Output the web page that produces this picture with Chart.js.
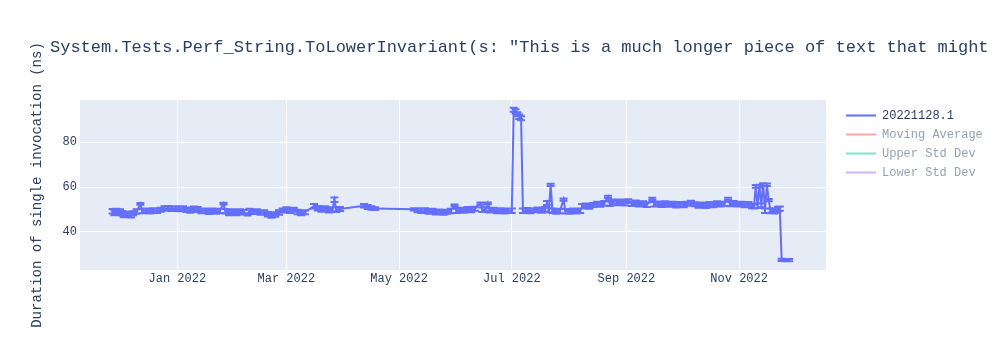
<!DOCTYPE html>
<html>
<head>
<meta charset="utf-8">
<script src="https://cdn.jsdelivr.net/npm/chart.js@4.4.1/dist/chart.umd.min.js"></script>
<style>
  html, body { margin: 0; padding: 0; background: #ffffff; }
  #wrap { width: 1000px; height: 350px; }
</style>
</head>
<body>
<div id="wrap"><canvas id="c" width="1000" height="350"></canvas></div>
<script>
// ---------------- data ----------------
const chartTitle = 'System.Tests.Perf_String.ToLowerInvariant(s: "This is a much longer piece of text that might benefit more from vectorization.")';
const yAxisTitle = 'Duration of single invocation (ns)';
const seriesNames = ['20221128.1', 'Moving Average', 'Upper Std Dev', 'Lower Std Dev'];

const runDates = [
  '2021-11-27','2021-11-28','2021-11-29','2021-11-30','2021-12-01','2021-12-02','2021-12-03','2021-12-05','2021-12-07','2021-12-08',
  '2021-12-10','2021-12-12','2021-12-13','2021-12-15','2021-12-17','2021-12-19','2021-12-21','2021-12-23','2021-12-25','2021-12-27',
  '2021-12-29','2021-12-31','2022-01-02','2022-01-04','2022-01-06','2022-01-08','2022-01-10','2022-01-12','2022-01-14','2022-01-16',
  '2022-01-18','2022-01-20','2022-01-22','2022-01-24','2022-01-26','2022-01-27','2022-01-29','2022-01-31','2022-02-02','2022-02-04',
  '2022-02-06','2022-02-08','2022-02-09','2022-02-11','2022-02-13','2022-02-15','2022-02-17','2022-02-19','2022-02-21','2022-02-23',
  '2022-02-25','2022-02-27','2022-03-01','2022-03-03','2022-03-05','2022-03-07','2022-03-09','2022-03-11','2022-03-16','2022-03-18',
  '2022-03-20','2022-03-22','2022-03-24','2022-03-26','2022-03-27','2022-03-28','2022-03-30','2022-04-12','2022-04-14','2022-04-16',
  '2022-04-18','2022-05-09','2022-05-11','2022-05-13','2022-05-15','2022-05-17','2022-05-19','2022-05-21','2022-05-23','2022-05-25',
  '2022-05-27','2022-05-29','2022-05-31','2022-06-01','2022-06-03','2022-06-05','2022-06-07','2022-06-09','2022-06-11','2022-06-14',
  '2022-06-15','2022-06-17','2022-06-18','2022-06-19','2022-06-21','2022-06-23','2022-06-25','2022-06-27','2022-06-29','2022-07-01',
  '2022-07-02','2022-07-03','2022-07-04','2022-07-05','2022-07-06','2022-07-07','2022-07-09','2022-07-11','2022-07-13','2022-07-15',
  '2022-07-17','2022-07-19','2022-07-20','2022-07-21','2022-07-22','2022-07-23','2022-07-25','2022-07-27','2022-07-29','2022-07-30',
  '2022-08-01','2022-08-03','2022-08-05','2022-08-07','2022-08-08','2022-08-10','2022-08-12','2022-08-14','2022-08-16','2022-08-18',
  '2022-08-20','2022-08-22','2022-08-23','2022-08-25','2022-08-26','2022-08-27','2022-08-29','2022-08-31','2022-09-02','2022-09-04',
  '2022-09-06','2022-09-08','2022-09-10','2022-09-12','2022-09-15','2022-09-16','2022-09-18','2022-09-20','2022-09-22','2022-09-24',
  '2022-09-26','2022-09-28','2022-09-30','2022-10-02','2022-10-04','2022-10-06','2022-10-08','2022-10-10','2022-10-12','2022-10-14',
  '2022-10-16','2022-10-18','2022-10-20','2022-10-22','2022-10-24','2022-10-26','2022-10-27','2022-10-29','2022-10-31','2022-11-02',
  '2022-11-04','2022-11-06','2022-11-08','2022-11-09','2022-11-10','2022-11-11','2022-11-12','2022-11-13','2022-11-14','2022-11-15',
  '2022-11-16','2022-11-17','2022-11-18','2022-11-19','2022-11-20','2022-11-21','2022-11-22','2022-11-23','2022-11-24','2022-11-26',
  '2022-11-28'
];

const durations = [
  49.2, 48.5, 49.4, 48.6, 49.0, 48.3, 47.7, 48.1, 47.5, 48.3,
  49.1, 52.5, 49.3, 49.6, 49.2, 49.7, 49.4, 49.9, 50.4, 50.7,
  50.3, 50.6, 50.2, 50.5, 49.9, 49.5, 50.3, 50.0, 49.3, 49.6,
  49.0, 49.5, 49.1, 49.4, 52.6, 49.2, 48.5, 49.1, 48.4, 49.2,
  48.8, 47.8, 49.3, 48.9, 49.1, 48.6, 48.7, 47.9, 47.4, 47.8,
  48.7, 49.6, 50.0, 49.4, 49.9, 48.9, 48.5, 48.8, 51.5, 50.6,
  49.9, 50.4, 49.7, 50.1, 54.3, 49.9, 50.2, 51.7, 51.1, 50.7,
  50.4, 50.1, 49.7, 49.4, 49.7, 49.1, 49.4, 48.8, 49.1, 48.7,
  49.0, 49.3, 51.8, 49.4, 49.9, 49.6, 50.2, 49.8, 50.3, 52.6,
  49.9, 50.2, 52.7, 49.7, 49.9, 49.3, 49.7, 49.2, 49.6, 49.4,
  94.4, 93.6, 92.4, 91.3, 90.6, 49.5, 49.8, 49.3, 49.7, 49.9,
  49.5, 50.1, 52.9, 49.8, 61.0, 49.4, 49.0, 49.3, 54.4, 49.2,
  49.0, 49.4, 49.1, 49.5, 51.4, 51.8, 51.3, 52.0, 52.4, 52.1,
  52.8, 55.6, 52.6, 53.3, 54.1, 52.9, 53.6, 52.8, 53.7, 52.6,
  53.1, 52.3, 52.8, 52.1, 54.7, 52.3, 52.7, 52.1, 52.8, 52.2,
  52.5, 51.9, 52.4, 52.0, 52.6, 52.9, 52.3, 51.8, 52.2, 51.7,
  52.4, 52.0, 52.8, 52.3, 52.6, 54.7, 52.4, 52.9, 52.3, 52.6,
  52.0, 52.4, 51.6, 51.3, 60.3, 51.7, 60.4, 51.9, 61.1, 49.5,
  61.0, 54.2, 49.3, 49.7, 49.2, 49.6, 50.2, 50.4, 27.6, 27.5,
  27.5
];

const errorMargins = [
  1.0, 1.1, 0.9, 1.0, 1.1, 1.0, 1.1, 1.0, 1.1, 0.9,
  1.0, 0.4, 1.0, 0.9, 1.0, 0.9, 1.0, 0.9, 1.0, 0.9,
  1.0, 0.9, 1.0, 0.9, 1.0, 0.9, 1.0, 1.1, 1.0, 0.9,
  1.0, 0.9, 1.0, 0.9, 0.4, 1.0, 1.1, 1.0, 1.0, 0.9,
  1.0, 0.5, 1.0, 0.9, 1.0, 0.9, 1.0, 1.0, 1.1, 1.0,
  1.0, 0.9, 1.0, 1.0, 0.9, 1.0, 1.0, 0.9, 1.0, 1.0,
  0.9, 1.0, 1.0, 0.9, 1.0, 1.0, 0.9, 0.8, 0.9, 0.8,
  0.6, 0.5, 0.9, 1.0, 0.9, 1.0, 0.9, 1.0, 0.9, 1.0,
  0.9, 1.0, 0.4, 1.0, 0.9, 1.0, 0.9, 1.0, 0.9, 0.5,
  1.0, 0.9, 0.4, 1.0, 0.9, 1.0, 0.9, 1.0, 0.9, 1.0,
  0.9, 1.0, 0.9, 1.0, 0.9, 1.0, 0.9, 1.0, 0.9, 1.0,
  0.9, 1.0, 0.9, 1.0, 0.5, 1.0, 0.9, 1.0, 0.5, 1.0,
  0.9, 1.0, 0.9, 1.0, 1.0, 0.9, 1.0, 0.9, 1.0, 0.9,
  1.0, 0.5, 1.0, 0.9, 0.4, 1.0, 0.9, 1.0, 0.9, 1.0,
  0.9, 1.0, 0.9, 1.0, 0.5, 1.0, 0.9, 1.0, 0.9, 1.0,
  0.9, 1.0, 0.9, 1.0, 0.9, 1.0, 0.9, 1.0, 0.9, 1.0,
  0.9, 1.0, 0.9, 1.0, 0.9, 0.5, 1.0, 0.9, 1.0, 0.9,
  1.0, 0.9, 1.0, 0.9, 0.6, 1.0, 0.6, 0.9, 0.6, 1.0,
  0.6, 0.5, 1.0, 0.9, 1.0, 0.9, 1.0, 0.9, 0.5, 0.5,
  0.5
];

const xTickDates = ['2022-01-01', '2022-03-01', '2022-05-01', '2022-07-01', '2022-09-01', '2022-11-01'];
const xTickLabels = ['Jan 2022', 'Mar 2022', 'May 2022', 'Jul 2022', 'Sep 2022', 'Nov 2022'];
const yTickValues = [40, 60, 80];
const xRange = ['2021-11-09T08:00:00Z', '2022-12-18T00:00:00Z'];
const yRange = [23.1, 98.7];

// ---------------- styles ----------------
const FONT = 'Liberation Mono, Courier New, monospace';
const TEXT = '#2a3f5f';
const TEXT_FADED = 'rgba(42,63,95,0.5)';
const seriesColors = ['#636efa', 'rgba(239,85,59,0.5)', 'rgba(0,204,150,0.5)', 'rgba(171,99,250,0.5)'];

Chart.defaults.font.family = FONT;

const points = runDates.map((d, i) => ({ x: Date.parse(d), y: durations[i] }));

const bgPlugin = {
  id: 'plotBg',
  beforeDraw(chart) {
    const { ctx, chartArea: a } = chart;
    ctx.save();
    ctx.fillStyle = '#ffffff';
    ctx.fillRect(0, 0, chart.width, chart.height);
    ctx.fillStyle = '#e5ecf6';
    ctx.fillRect(a.left, a.top, a.right - a.left, a.bottom - a.top);
    ctx.restore();
  }
};

const errorBarPlugin = {
  id: 'errorBars',
  afterDatasetDraw(chart, args) {
    if (args.index !== 0) return;
    const { ctx, chartArea: a } = chart;
    const xs = chart.scales.x, ys = chart.scales.y;
    ctx.save();
    ctx.beginPath();
    ctx.rect(a.left, a.top, a.right - a.left, a.bottom - a.top);
    ctx.clip();
    ctx.strokeStyle = seriesColors[0];
    ctx.lineWidth = 2;
    ctx.beginPath();
    points.forEach((p, i) => {
      const e = errorMargins[i];
      const px = xs.getPixelForValue(p.x);
      const yt = ys.getPixelForValue(p.y + e);
      const yb = ys.getPixelForValue(p.y - e);
      ctx.moveTo(px, yt); ctx.lineTo(px, yb);
      ctx.moveTo(px - 4, yt); ctx.lineTo(px + 4, yt);
      ctx.moveTo(px - 4, yb); ctx.lineTo(px + 4, yb);
    });
    ctx.stroke();
    ctx.restore();
  }
};

const placePlugin = {
  id: 'placeBlocks',
  afterLayout(chart) {
    const t = chart.titleBlock;
    if (t) { t.left = 50; t.right = 50 + 2000; t.width = 2000; }
    const lg = chart.legend;
    if (lg) {
      const w = lg.width, h = lg.height;
      lg.left = 839; lg.right = 839 + w;
      lg.top = 102.5; lg.bottom = 102.5 + h;
    }
  }
};

new Chart(document.getElementById('c'), {
  type: 'line',
  data: {
    datasets: [
      { label: seriesNames[0], data: points, borderColor: seriesColors[0], backgroundColor: seriesColors[0],
        borderWidth: 2, pointRadius: 0, tension: 0, fill: false },
      { label: seriesNames[1], data: [], borderColor: seriesColors[1], borderWidth: 2, pointRadius: 0 },
      { label: seriesNames[2], data: [], borderColor: seriesColors[2], borderWidth: 2, pointRadius: 0 },
      { label: seriesNames[3], data: [], borderColor: seriesColors[3], borderWidth: 2, pointRadius: 0 }
    ]
  },
  options: {
    responsive: false,
    animation: false,
    events: [],
    layout: { padding: { left: 20, right: 174, top: 0, bottom: 0 } },
    scales: {
      x: {
        type: 'linear',
        min: Date.parse(xRange[0]),
        max: Date.parse(xRange[1]),
        afterBuildTicks: (axis) => { axis.ticks = xTickDates.map(d => ({ value: Date.parse(d) })); },
        afterFit: (s) => { s.height = 80; },
        ticks: {
          autoSkip: false, maxRotation: 0, minRotation: 0, padding: 2,
          color: TEXT, font: { family: FONT, size: 12 },
          callback: (v, i) => xTickLabels[i]
        },
        grid: { color: '#ffffff', lineWidth: 1, drawTicks: false },
        border: { display: false }
      },
      y: {
        type: 'linear',
        min: yRange[0],
        max: yRange[1],
        afterBuildTicks: (axis) => { axis.ticks = yTickValues.map(v => ({ value: v })); },
        afterFit: (s) => { s.width = 60; },
        ticks: { padding: 3, color: TEXT, font: { family: FONT, size: 12 }, callback: (v) => String(v) },
        grid: { color: '#ffffff', lineWidth: 1, drawTicks: false },
        border: { display: false },
        title: { display: true, text: yAxisTitle, color: TEXT, font: { family: FONT, size: 14, weight: 'normal' },
                 padding: { top: 8.6, bottom: 0 } }
      }
    },
    plugins: {
      title: {
        display: true, text: chartTitle, align: 'start', color: TEXT,
        font: { family: FONT, size: 17, weight: 'normal' },
        padding: { top: 36.8, bottom: 42.8 }
      },
      legend: {
        display: true, position: 'chartArea', align: 'start',
        labels: {
          usePointStyle: true, pointStyle: 'line', pointStyleWidth: 30, boxHeight: 12, padding: 7,
          color: TEXT, font: { family: FONT, size: 12 },
          generateLabels: () => seriesNames.map((name, i) => ({
            text: name, datasetIndex: i, hidden: false,
            strokeStyle: seriesColors[i], fillStyle: seriesColors[i], lineWidth: 2, pointStyle: 'line',
            fontColor: i === 0 ? TEXT : TEXT_FADED
          }))
        }
      },
      tooltip: { enabled: false }
    }
  },
  plugins: [bgPlugin, errorBarPlugin, placePlugin]
});
</script>
</body>
</html>
